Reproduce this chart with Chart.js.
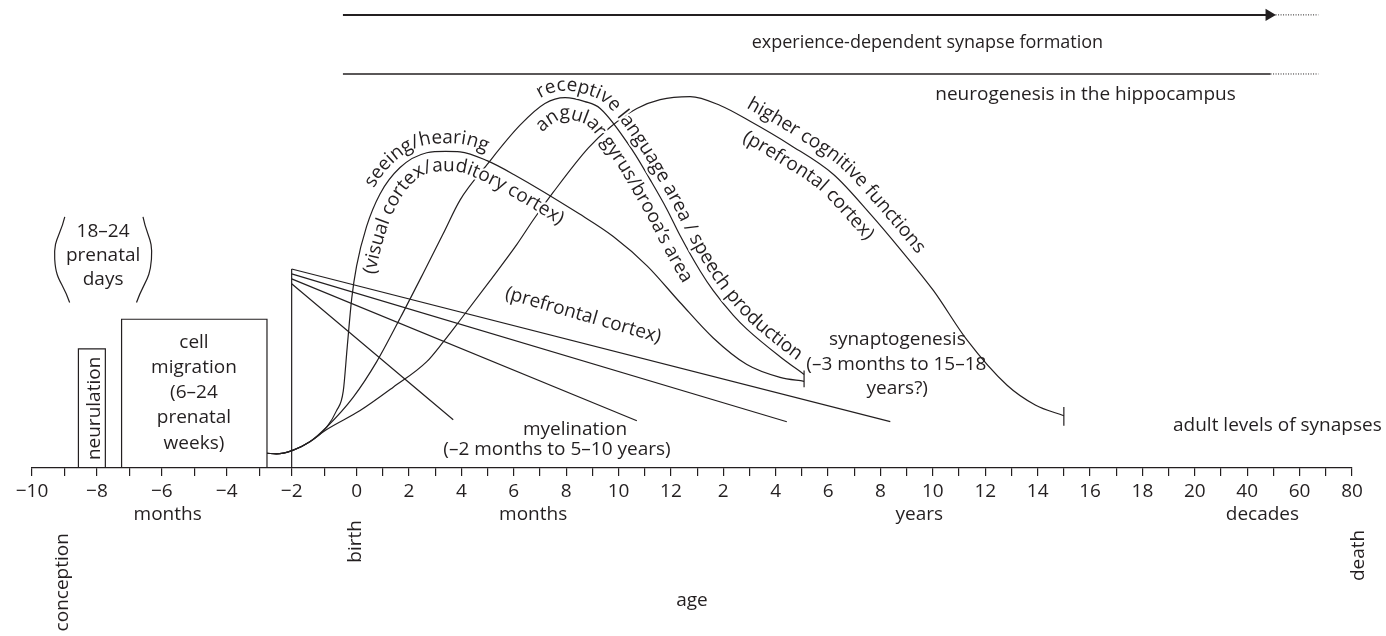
<!DOCTYPE html>
<html>
<head>
<meta charset="utf-8">
<script src="https://cdn.jsdelivr.net/npm/chart.js@4.4.0/dist/chart.umd.min.js"></script>
<style>
  html, body { margin: 0; padding: 0; background: #fff; }
</style>
</head>
<body>
<canvas id="devChart" width="1386" height="636"></canvas>
<script>
// x axis ticks, age in months (negative = prenatal)
const tickMonths = [-10,-9,-8,-7,-6,-5,-4,-3,-2,-1,0,1,2,3,4,5,6,7,8,9,10,11,12,18,24,36,48,60,72,84,96,108,120,132,144,156,168,180,192,204,216,228,240,360,480,600,720,840,960];
const tickLabels = ['−10','','−8','','−6','','−4','','−2','','0','','2','','4','','6','','8','','10','','12','','2','','4','','6','','8','','10','','12','','14','','16','','18','','20','','40','','60','','80'];

// synapse curves: [age in months, relative level]
const seeingHearing = [[-2.76,15],[-2.47,14.3],[-1.99,17.6],[-1.44,26.6],[-0.92,41.6],[-0.62,58],[-0.41,78],[-0.29,122],[-0.15,172],[0,205],[0.38,245],[0.89,278],[1.66,305],[2.68,320],[3.4,321.5],[3.95,321],[4.98,312],[6.0,298],[8.5,258],[9.8,235],[11.1,205],[14.1,168],[21.7,132],[34.8,105],[50,92],[61,88]];
const receptiveLanguage = [[-2.76,15],[-2.47,14.3],[-1.99,17.6],[-1.44,26.6],[-0.92,41.6],[-0.10,72],[0.77,108],[1.66,152],[2.55,198],[3.31,238],[3.95,272],[4.98,308],[6.24,348],[7.19,370],[7.96,376],[8.72,372],[9.3,365],[10.57,321],[11.2,293],[11.84,263],[14.1,236],[18.7,200],[21.7,180],[28.6,155],[34.8,141],[50,113],[61,95]];
const higherCognitive = [[-2.76,15],[-2.47,14.3],[-1.99,17.6],[-1.44,26.6],[-0.92,39],[0.12,58],[1.4,82],[2.68,108],[3.31,128],[3.95,150],[5.09,190],[6.12,227],[6.75,252],[7.51,280],[8.85,325],[9.68,346],[10.7,365],[11.59,374],[16.4,377],[23.3,368],[36.3,352],[54.6,328],[74.5,298],[91.3,258],[105.1,222],[120.3,180],[135.6,130],[154,84],[166.9,64],[180,53]];
const synapseEnds = [[[61,82],[61,99]], [[180,43],[180,62]]];

// myelination fan, from -2 months
const myelinStart = [[-2,0],[-2,202]];
const myelinFan = [
  [[-2,202],[100.5,47]],
  [[-2,197],[53.1,47]],
  [[-2,192],[10.7,48]],
  [[-2,187],[3.69,49]]
];

// prenatal phases
const neurulationBox = [[-8.57,0],[-8.57,121],[-7.74,121],[-7.74,0]];
const migrationBox = [[-7.24,0],[-7.24,151],[-2.76,151],[-2.76,0]];
const parenLeft = [[-8.99,255],[-9.30,212],[-8.84,168]];
const parenRight = [[-6.58,255],[-6.32,212],[-6.78,168]];

// lifelong processes
const experienceLine = [[-0.42,460],[580,460]];
const experienceTail = [[587,460],[806,460]];
const neurogenesisLine = [[-0.42,400],[587,400]];
const neurogenesisTail = [[587,400],[806,400]];

const INK = '#231f20';
const FONT = '"Open Sans", "DejaVu Sans", sans-serif';
const PRE = 1.239; // a prenatal month is drawn wider than a postnatal tick

// piecewise age axis: months, then half years, years, decades
function pos(m) {
  const b = 10 * PRE;
  if (m <= 0) return (m + 10) * PRE;
  if (m <= 12) return b + m;
  if (m <= 24) return b + 12 + (m - 12) / 6;
  if (m <= 240) return b + 14 + (m - 24) / 12;
  return b + 32 + (m - 240) / 120;
}

function line(label, pts, extra) {
  return Object.assign({
    label: label,
    data: pts.map(([m, v]) => ({ x: pos(m), y: v })),
    borderColor: INK,
    borderWidth: 1.2,
    pointRadius: 0,
    fill: false,
    tension: 0
  }, extra || {});
}

const datasets = [
  line('seeing', seeingHearing, { cubicInterpolationMode: 'monotone' }),
  line('language', receptiveLanguage, { cubicInterpolationMode: 'monotone' }),
  line('higher', higherCognitive, { cubicInterpolationMode: 'monotone' }),
  ...synapseEnds.map((p, i) => line('end' + i, p)),
  line('myelinStart', myelinStart),
  ...myelinFan.map((p, i) => line('fan' + i, p)),
  line('neurulation', neurulationBox),
  line('migration', migrationBox),
  line('parenL', parenLeft, { tension: 0.5 }),
  line('parenR', parenRight, { tension: 0.5 }),
  line('experience', experienceLine, {
    borderWidth: 2,
    pointStyle: 'triangle',
    pointRotation: 90,
    pointBackgroundColor: INK,
    pointBorderColor: INK,
    pointRadius: ctx => ctx.dataIndex === 1 ? 5 : 0
  }),
  line('experienceTail', experienceTail, { borderWidth: 1, borderDash: [1, 1.5] }),
  line('neurogenesis', neurogenesisLine, { borderWidth: 1.5 }),
  line('neurogenesisTail', neurogenesisTail, { borderWidth: 1, borderDash: [1, 1.5] })
];

// texts placed in axis units
const notes = [
  { t: '18–24', m: -7.81, v: 234.7 },
  { t: 'prenatal', m: -7.81, v: 209.7 },
  { t: 'days', m: -7.81, v: 185.3 },
  { t: 'cell', m: -5.01, v: 122.3 },
  { t: 'migration', m: -5.01, v: 96.3 },
  { t: '(6–24', m: -5.01, v: 71.3 },
  { t: 'prenatal', m: -5.01, v: 45.7 },
  { t: 'weeks)', m: -5.01, v: 19.7 },
  { t: 'neurulation', m: -7.91, v: 60.5, rot: -90 },
  { t: 'conception', m: -8.9, v: -116, rot: -90 },
  { t: 'birth', m: 0.17, v: -74.5, rot: -90 },
  { t: 'death', m: 1013, v: -88.7, rot: -90 },
  { t: 'months', m: -5.82, v: -53 },
  { t: 'months', m: 6.74, v: -53 },
  { t: 'years', m: 113.8, v: -53 },
  { t: 'decades', m: 549.6, v: -53 },
  { t: 'myelination', m: 8.34, v: 33.7 },
  { t: '(–2 months to 5–10 years)', m: 7.65, v: 13 },
  { t: '(prefrontal cortex)', m: 8.65, v: 155, rot: 16, mid: true },
  { t: 'synaptogenesis', m: 103.7, v: 124.7 },
  { t: '(–3 months to 15–18', m: 103.3, v: 99.7 },
  { t: 'years?)', m: 103.7, v: 74.7 },
  { t: 'adult levels of synapses', m: 618, v: 38 },
  { t: 'experience-dependent synapse formation', m: 117.5, v: 426, size: 18 },
  { t: 'neurogenesis in the hippocampus', m: 121.1, v: 374, align: 'left' }
];

// texts that follow a curve; 'at' is near the first letter, off > 0 is above
const curveNotes = [
  { t: 'seeing/hearing', on: 'seeing', at: [0.25, 290], off: 8 },
  { t: '(visual cortex/auditory cortex)', on: 'seeing', at: [0.35, 198], off: -20 },
  { t: 'receptive language area / speech production', on: 'language', at: [7.03, 375], off: 7 },
  { t: 'angular gyrus/brooa’s area', on: 'language', at: [6.88, 345], off: -21 },
  { t: 'higher cognitive functions', on: 'higher', at: [37.1, 378], off: 10 },
  { t: '(prefrontal cortex)', on: 'higher', at: [34.8, 342], off: -21 }
];

// sample the drawn bezier path of a dataset, shifted sideways by 'off' pixels
function offsetPath(meta, off) {
  const pts = meta.data, base = [];
  for (let i = 0; i < pts.length - 1; i++) {
    const a = pts[i], b = pts[i + 1];
    const c1x = a.cp2x ?? a.x, c1y = a.cp2y ?? a.y;
    const c2x = b.cp1x ?? b.x, c2y = b.cp1y ?? b.y;
    for (let k = 0; k < 20; k++) {
      const t = k / 20, u = 1 - t;
      base.push({
        x: u*u*u*a.x + 3*u*u*t*c1x + 3*u*t*t*c2x + t*t*t*b.x,
        y: u*u*u*a.y + 3*u*u*t*c1y + 3*u*t*t*c2y + t*t*t*b.y
      });
    }
  }
  const last = pts[pts.length - 1];
  base.push({ x: last.x, y: last.y });
  const out = base.map((p, i) => {
    const a = base[Math.max(0, i - 2)], b = base[Math.min(base.length - 1, i + 2)];
    const ang = Math.atan2(b.y - a.y, b.x - a.x);
    return { x: p.x + off * Math.sin(ang), y: p.y - off * Math.cos(ang) };
  });
  out[0].s = 0;
  for (let i = 1; i < out.length; i++) {
    out[i].s = out[i-1].s + Math.hypot(out[i].x - out[i-1].x, out[i].y - out[i-1].y);
  }
  return out;
}

function pointRaw(path, s) {
  let i = 1;
  while (i < path.length - 1 && path[i].s < s) i++;
  const a = path[i-1], b = path[i];
  const f = (s - a.s) / ((b.s - a.s) || 1);
  return { x: a.x + (b.x - a.x) * f, y: a.y + (b.y - a.y) * f };
}
function pointAt(path, s) {
  const p = pointRaw(path, s), lo = pointRaw(path, s - 4), hi = pointRaw(path, s + 4);
  p.ang = Math.atan2(hi.y - lo.y, hi.x - lo.x);
  return p;
}

const labelPlugin = {
  id: 'labels',
  afterDraw(chart) {
    const { ctx, scales: { x, y } } = chart;
    const px = m => x.getPixelForValue(pos(m));
    const py = v => y.getPixelForValue(v);
    ctx.save();
    ctx.fillStyle = INK;
    ctx.strokeStyle = '#fff';
    ctx.lineWidth = 4;
    ctx.lineJoin = 'round';

    notes.forEach(n => {
      ctx.save();
      ctx.font = (n.size || 19) + 'px ' + FONT;
      ctx.translate(px(n.m), py(n.v));
      if (n.rot) ctx.rotate(n.rot * Math.PI / 180);
      ctx.textAlign = n.align || 'center';
      ctx.textBaseline = n.mid ? 'middle' : 'alphabetic';
      ctx.fillText(n.t, 0, 0);
      ctx.restore();
    });

    // letters along the curves, white halo first so the lines break under them
    ctx.font = '19px ' + FONT;
    const glyphs = [];
    curveNotes.forEach(c => {
      const idx = chart.data.datasets.findIndex(d => d.label === c.on);
      const path = offsetPath(chart.getDatasetMeta(idx), c.off);
      const ax = px(c.at[0]), ay = py(c.at[1]);
      let s = 0, bd = Infinity;
      path.forEach(p => {
        const d = Math.hypot(p.x - ax, p.y - ay);
        if (d < bd) { bd = d; s = p.s; }
      });
      for (const ch of c.t) {
        const w = ctx.measureText(ch).width;
        const p = pointAt(path, s + w / 2);
        glyphs.push({ ch: ch, x: p.x, y: p.y, ang: p.ang });
        s += w;
      }
    });
    ctx.textAlign = 'center';
    ctx.textBaseline = 'alphabetic';
    ['stroke', 'fill'].forEach(mode => {
      glyphs.forEach(g => {
        ctx.save();
        ctx.translate(g.x, g.y);
        ctx.rotate(g.ang);
        if (mode === 'stroke') ctx.strokeText(g.ch, 0, 0);
        else ctx.fillText(g.ch, 0, 0);
        ctx.restore();
      });
    });
    ctx.restore();
  }
};

new Chart(document.getElementById('devChart'), {
  type: 'line',
  data: { datasets: datasets },
  options: {
    responsive: false,
    animation: false,
    events: [],
    layout: { padding: { left: 32, right: 34, top: 0, bottom: 0 } },
    plugins: { legend: { display: false }, tooltip: { enabled: false } },
    scales: {
      x: {
        type: 'linear',
        min: 0,
        max: pos(960),
        afterBuildTicks: s => { s.ticks = tickMonths.map(m => ({ value: pos(m) })); },
        afterFit: s => { s.height = 168; },
        grid: { drawOnChartArea: false, drawTicks: true, tickLength: 8, color: INK, lineWidth: 1.2 },
        border: { display: true, color: INK, width: 1.3 },
        ticks: {
          autoSkip: false,
          maxRotation: 0,
          padding: 4,
          color: INK,
          font: { family: FONT, size: 19 },
          callback: (v, i) => tickLabels[i]
        },
        title: {
          display: true,
          text: 'age',
          color: INK,
          font: { family: FONT, size: 19 },
          padding: { top: 0, bottom: 24 }
        }
      },
      y: { display: false, min: 0, max: 468 }
    }
  },
  plugins: [labelPlugin]
});
</script>
</body>
</html>
